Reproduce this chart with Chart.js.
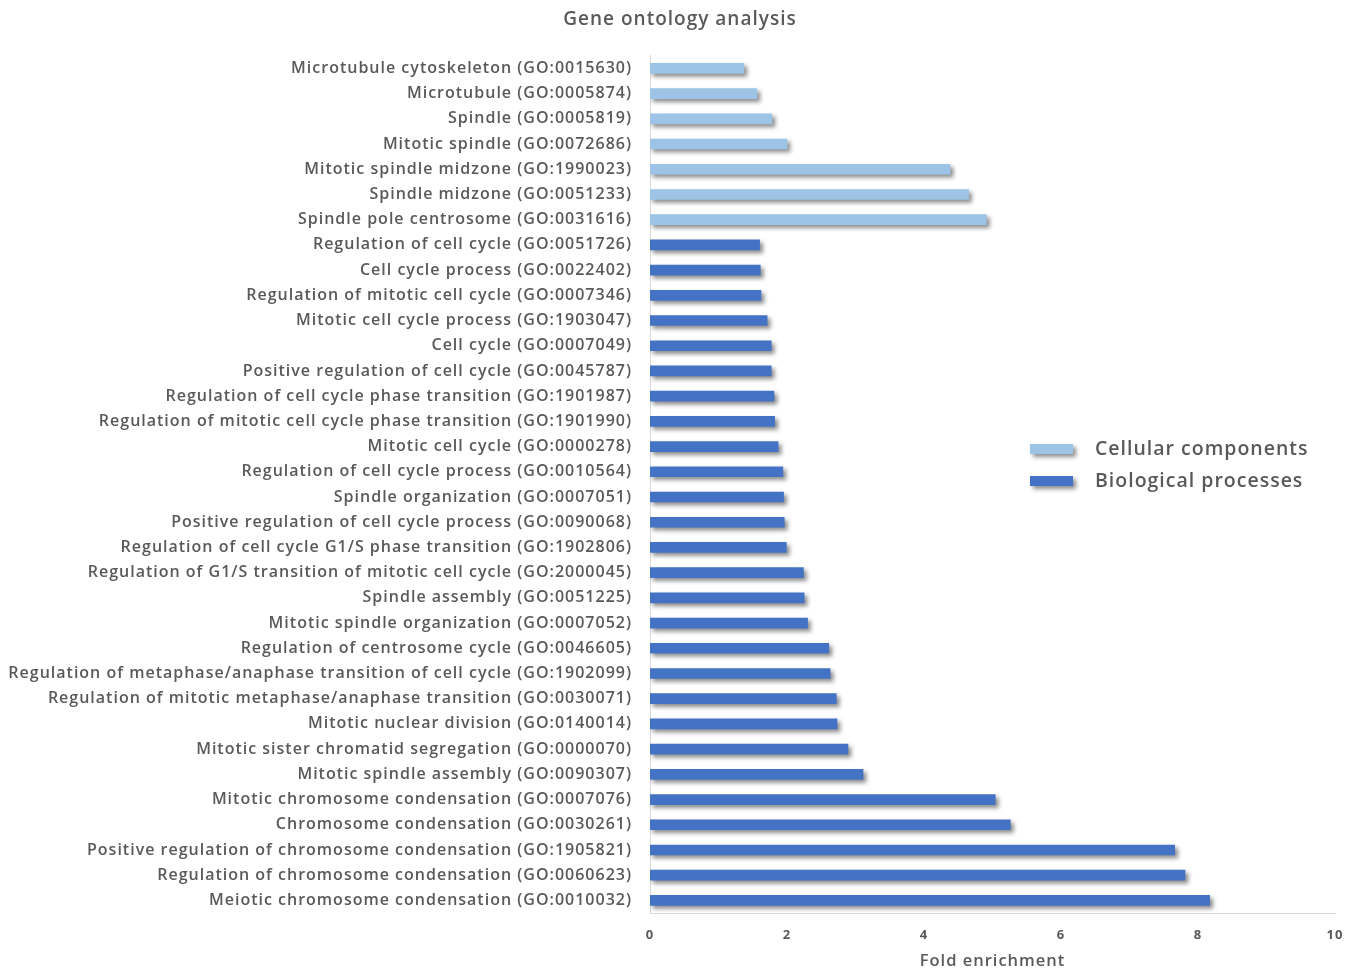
<!DOCTYPE html>
<html>
<head>
<meta charset="utf-8">
<title>Gene ontology analysis</title>
<script src="https://cdn.jsdelivr.net/npm/chart.js@4.4.1/dist/chart.umd.min.js"></script>
<style>
  html, body { margin: 0; padding: 0; background: #ffffff; }
  #wrap { width: 1356px; height: 971px; }
</style>
</head>
<body>
<div id="wrap"><canvas id="go"></canvas></div>
<script>
// GO terms, top to bottom
const terms = [
  'Microtubule cytoskeleton (GO:0015630)',
  'Microtubule (GO:0005874)',
  'Spindle (GO:0005819)',
  'Mitotic spindle (GO:0072686)',
  'Mitotic spindle midzone (GO:1990023)',
  'Spindle midzone (GO:0051233)',
  'Spindle pole centrosome (GO:0031616)',
  'Regulation of cell cycle (GO:0051726)',
  'Cell cycle process (GO:0022402)',
  'Regulation of mitotic cell cycle (GO:0007346)',
  'Mitotic cell cycle process (GO:1903047)',
  'Cell cycle (GO:0007049)',
  'Positive regulation of cell cycle (GO:0045787)',
  'Regulation of cell cycle phase transition (GO:1901987)',
  'Regulation of mitotic cell cycle phase transition (GO:1901990)',
  'Mitotic cell cycle (GO:0000278)',
  'Regulation of cell cycle process (GO:0010564)',
  'Spindle organization (GO:0007051)',
  'Positive regulation of cell cycle process (GO:0090068)',
  'Regulation of cell cycle G1/S phase transition (GO:1902806)',
  'Regulation of G1/S transition of mitotic cell cycle (GO:2000045)',
  'Spindle assembly (GO:0051225)',
  'Mitotic spindle organization (GO:0007052)',
  'Regulation of centrosome cycle (GO:0046605)',
  'Regulation of metaphase/anaphase transition of cell cycle (GO:1902099)',
  'Regulation of mitotic metaphase/anaphase transition (GO:0030071)',
  'Mitotic nuclear division (GO:0140014)',
  'Mitotic sister chromatid segregation (GO:0000070)',
  'Mitotic spindle assembly (GO:0090307)',
  'Mitotic chromosome condensation (GO:0007076)',
  'Chromosome condensation (GO:0030261)',
  'Positive regulation of chromosome condensation (GO:1905821)',
  'Regulation of chromosome condensation (GO:0060623)',
  'Meiotic chromosome condensation (GO:0010032)'
];

// Fold enrichment, cellular component terms (first seven rows)
const cellularComponents = [
  1.37, 1.56, 1.78, 2.00, 4.38, 4.65, 4.91,
  null, null, null, null, null, null, null, null, null, null, null, null, null,
  null, null, null, null, null, null, null, null, null, null, null, null, null, null
];

// Fold enrichment, biological process terms (remaining rows)
const biologicalProcesses = [
  null, null, null, null, null, null, null,
  1.60, 1.61, 1.62, 1.71, 1.77, 1.77, 1.81, 1.82, 1.87, 1.94, 1.95, 1.96, 1.99,
  2.24, 2.25, 2.30, 2.61, 2.63, 2.72, 2.73, 2.89, 3.11,
  5.04, 5.26, 7.66, 7.81, 8.17
];

const xTicks = [0, 2, 4, 6, 8, 10];

const TEXT = '#595959';
const FONT = "'Open Sans', 'DejaVu Sans', sans-serif";

// Slightly open tracking for all canvas text
const tracking = {
  id: 'tracking',
  beforeUpdate(chart) { chart.ctx.letterSpacing = '1px'; },
  beforeDraw(chart) { chart.ctx.letterSpacing = '1px'; }
};

// Soft drop shadow under the bars
const barShadow = {
  id: 'barShadow',
  beforeDatasetsDraw(chart) {
    const c = chart.ctx;
    c.save();
    c.shadowColor = 'rgba(0,0,0,0.45)';
    c.shadowBlur = 4;
    c.shadowOffsetX = 3;
    c.shadowOffsetY = 3;
  },
  afterDatasetsDraw(chart) {
    chart.ctx.restore();
  }
};

// Legend drawn in the empty space to the right of the short bars
const sideLegend = {
  id: 'sideLegend',
  afterDraw(chart) {
    const c = chart.ctx;
    const x0 = 1030, y0 = 449, gap = 32;
    chart.data.datasets.forEach((ds, i) => {
      const y = y0 + i * gap;
      c.save();
      c.shadowColor = 'rgba(0,0,0,0.45)';
      c.shadowBlur = 4;
      c.shadowOffsetX = 3;
      c.shadowOffsetY = 3;
      c.fillStyle = ds.backgroundColor;
      c.fillRect(x0, y - 5, 43, 10);
      c.restore();
      c.save();
      c.fillStyle = TEXT;
      c.font = "600 19.5px " + FONT;
      c.textBaseline = 'middle';
      c.textAlign = 'left';
      c.fillText(ds.label, x0 + 65, y);
      c.restore();
    });
  }
};

new Chart(document.getElementById('go'), {
  type: 'bar',
  data: {
    labels: terms,
    datasets: [
      { label: 'Cellular components', data: cellularComponents, backgroundColor: '#9DC3E6', barThickness: 10 },
      { label: 'Biological processes', data: biologicalProcesses, backgroundColor: '#4472C4', barThickness: 10 }
    ]
  },
  options: {
    indexAxis: 'y',
    responsive: true,
    maintainAspectRatio: false,
    animation: false,
    grouped: false,
    // the title centres over the full padded width; the x axis keeps its own right margin
    layout: { padding: { left: 0, right: -4, top: 0, bottom: 0 } },
    plugins: {
      legend: { display: false },
      tooltip: { enabled: false },
      title: {
        display: true,
        text: 'Gene ontology analysis',
        color: TEXT,
        font: { family: FONT, size: 19, weight: '600' },
        padding: { top: 8, bottom: 25 }
      }
    },
    scales: {
      x: {
        min: 0,
        max: 10,
        afterBuildTicks(scale) { scale.ticks = xTicks.map(v => ({ value: v })); },
        afterFit(scale) { scale.height = 58; scale.paddingRight = 21; },
        grid: { display: false, drawTicks: false },
        border: { display: true, color: '#D9D9D9', width: 1 },
        ticks: { color: TEXT, padding: 14, font: { family: FONT, size: 13, weight: '700' } },
        title: {
          display: true,
          text: 'Fold enrichment',
          color: TEXT,
          font: { family: FONT, size: 16.5, weight: '600' },
          padding: { top: 0, bottom: 0 }
        }
      },
      y: {
        afterFit(scale) { scale.width = 650; },
        grid: { display: false, drawTicks: false },
        border: { display: true, color: '#D9D9D9', width: 1 },
        ticks: { color: TEXT, padding: 18, autoSkip: false, font: { family: FONT, size: 16, weight: '600' } }
      }
    }
  },
  plugins: [tracking, barShadow, sideLegend]
});
</script>
</body>
</html>
